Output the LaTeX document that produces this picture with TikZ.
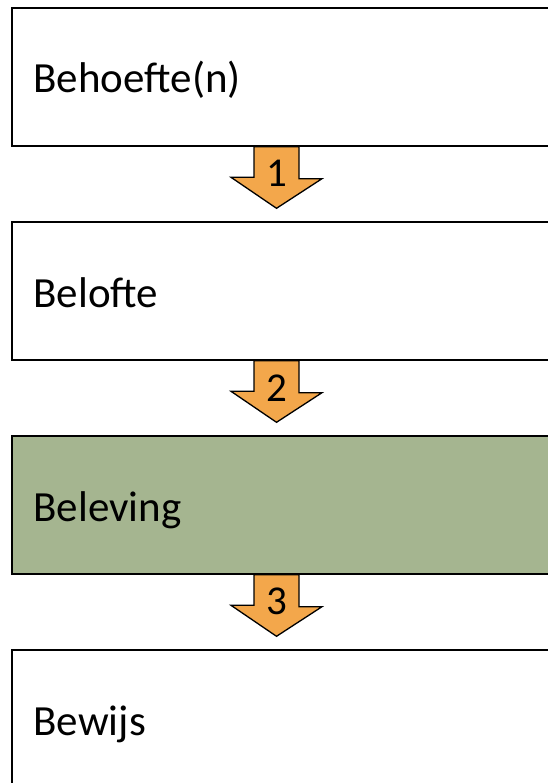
\documentclass[tikz,border=0pt]{standalone}
\usepackage{fontspec}
\setmainfont{Carlito}
\usetikzlibrary{positioning}

\definecolor{arrowfill}{RGB}{243,167,75}
\definecolor{stagegreen}{RGB}{165,181,144}

\begin{document}
\begin{tikzpicture}[x=1pt, y=1pt, node distance=214pt]
    \tikzset{stagebox/.style={draw, line width=1.4pt, rectangle, fill=white,
                              minimum width=548pt, minimum height=138pt, inner sep=0pt},
             stagetext/.style={anchor=base west, inner sep=0pt, font=\fontsize{43}{50}\selectfont},
             blockarrow/.style={draw, line width=1.3pt, line join=miter, fill=arrowfill},
             stepnum/.style={inner sep=0pt, font=\fontsize{41}{48}\selectfont}}
    \useasboundingbox (0,0) rectangle (547,-783);
    % the four stages
    \node[stagebox] (behoefte) at (286,-77)           {};
    \node[stagebox] (belofte)  [below of=behoefte]    {};
    \node[stagebox, fill=stagegreen] (beleving) [below of=belofte] {};
    \node[stagebox] (bewijs)   [below of=beleving]    {};
    \foreach \stage/\txt in {behoefte/Behoefte(n), belofte/Belofte, beleving/Beleving, bewijs/Bewijs}
        \node[stagetext] (\stage-text) at ([xshift=22pt, yshift=-16pt]\stage.west) {\txt};
    % numbered arrows between the stages
    \foreach \from/\to/\num in {behoefte/belofte/1, belofte/beleving/2, beleving/bewijs/3} {
        \draw[blockarrow] ([xshift=-32pt]\from.south) -- ([xshift=13pt]\from.south) -- ++(0,-32) -- ++(23,0)
            -- ([xshift=-9.5pt, yshift=13pt]\to.north) -- ++(-45.5,31) -- ++(23,0) -- cycle;
        \node[stepnum] (step\num) at ([xshift=-9.5pt, yshift=-27pt]\from.south) {\num};
    }
\end{tikzpicture}
\end{document}
